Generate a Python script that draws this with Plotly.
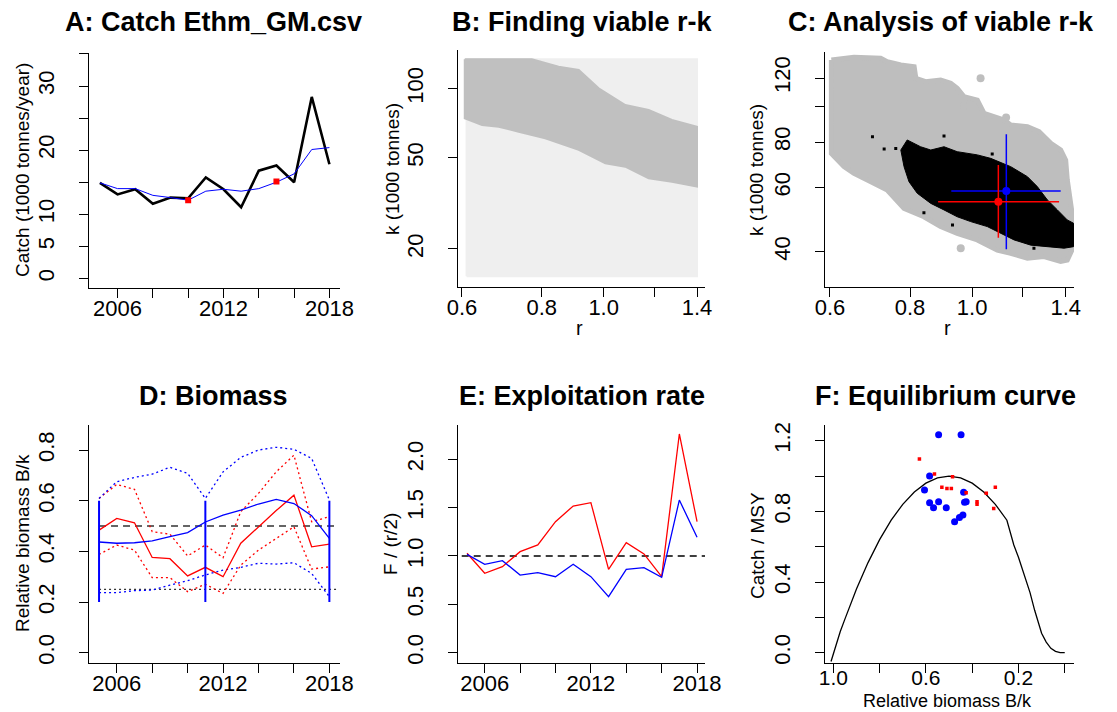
import plotly.graph_objects as go

W, H = 1117, 712
FONT = "Liberation Sans, Arial, sans-serif"

# ---------------- data ----------------
years = list(range(2005, 2019))

# A: catch
catch = [14.9, 13.1, 13.9, 11.65, 12.6, 12.5, 15.75, 13.9, 11.1, 16.8, 17.6, 15.0, 28.3, 17.8]
catch_smooth = [14.9, 14.0, 14.0, 12.95, 12.6, 12.2, 13.6, 13.9, 13.6, 14.0, 15.0, 16.3, 20.1, 20.4]
catch_mark_years = [2010, 2015]
catch_mark_vals = [12.2, 15.1]

# B: r-k space (outlines of the explored and viable r-k clouds)
b_all_r = [0.61, 1.40, 1.40, 0.61]
b_all_k = [15.2, 15.2, 134.4, 134.4]
b_viable_r = [0.606, 0.772, 0.850, 0.914, 0.982, 1.081, 1.176, 1.279, 1.40, 1.40,
              1.279, 1.176, 1.081, 1.006, 0.914, 0.810, 0.736, 0.685, 0.645, 0.606]
b_viable_k = [134.4, 134.4, 124.7, 120.6, 100.4, 84.9, 80.7, 73.0, 68.3, 37.4,
              39.3, 40.7, 45.7, 47.3, 54.1, 60.8, 64.9, 68.3, 69.5, 74.3]

# C: viable r-k (grey) and BSM r-k (black) clouds
c_grey_r = [0.603, 0.654, 0.720, 0.737, 0.774, 0.812, 0.817, 0.846, 0.893, 0.926,
            0.948, 0.971, 1.019, 1.044, 1.122, 1.149, 1.220, 1.272, 1.327, 1.375,
            1.400, 1.408, 1.440, 1.440, 1.408, 1.375, 1.295, 1.220, 1.149, 1.095,
            1.019, 0.948, 0.893, 0.841, 0.783, 0.737, 0.695, 0.654, 0.631, 0.603]
c_grey_k = [134.5, 136.8, 135.9, 133.1, 130.3, 128.9, 119.8, 117.3, 118.5, 116.1,
            112.4, 106.7, 104.4, 96.0, 92.0, 89.2, 88.2, 85.5, 79.4, 76.1,
            71.4, 63.0, 47.9, 41.3, 37.95, 37.6, 38.8, 38.4, 39.6, 40.4,
            43.1, 44.9, 46.9, 49.9, 52.6, 59.1, 62.3, 65.7, 68.5, 74.5]
c_grey_pts_r = [1.031, 0.960, 0.971, 1.130]
c_grey_pts_k = [119.8, 40.9, 100.6, 93.5]
c_black_r = [0.774, 0.792, 0.831, 0.862, 0.904, 0.948, 1.019, 1.069, 1.149, 1.220,
             1.264, 1.311, 1.359, 1.408, 1.440, 1.440, 1.392, 1.295, 1.235, 1.163,
             1.108, 1.056, 0.995, 0.948, 0.904, 0.862, 0.821, 0.797, 0.783]
c_black_k = [76.1, 81.1, 77.7, 76.1, 77.7, 75.3, 73.8, 72.2, 68.5, 64.3,
             60.4, 55.5, 52.1, 48.9, 47.9, 41.3, 40.9, 41.3, 41.7, 43.1,
             44.9, 46.9, 48.4, 49.9, 52.1, 54.3, 57.9, 62.3, 68.5]
c_black_pts_r = [0.699, 0.729, 0.760, 0.841, 0.932, 1.075, 0.904, 1.249]
c_black_pts_k = [82.8, 76.6, 76.9, 51.2, 47.4, 74.2, 83.2, 40.9]
bsm_r, bsm_r_lo, bsm_r_hi = 1.131, 0.928, 1.375
bsm_k, bsm_k_lo, bsm_k_hi = 58.7, 40.6, 84.1
cmsy_r, cmsy_r_lo, cmsy_r_hi = 1.099, 0.885, 1.367
cmsy_k, cmsy_k_lo, cmsy_k_hi = 54.9, 43.7, 69.2

# D: biomass
bk_cmsy = [0.484, 0.530, 0.513, 0.376, 0.371, 0.303, 0.337, 0.300, 0.432, 0.497, 0.561, 0.622, 0.418, 0.429]
bk_cmsy_hi = [0.609, 0.664, 0.645, 0.478, 0.468, 0.382, 0.425, 0.375, 0.557, 0.629, 0.714, 0.780, 0.517, 0.537]
bk_cmsy_lo = [0.388, 0.425, 0.405, 0.296, 0.296, 0.241, 0.270, 0.234, 0.346, 0.405, 0.451, 0.497, 0.330, 0.339]
bk_bsm = [0.437, 0.432, 0.434, 0.441, 0.458, 0.474, 0.516, 0.543, 0.563, 0.587, 0.605, 0.589, 0.541, 0.451]
bk_bsm_hi = [0.609, 0.675, 0.692, 0.705, 0.732, 0.708, 0.609, 0.714, 0.771, 0.800, 0.811, 0.803, 0.767, 0.603]
bk_bsm_lo = [0.237, 0.237, 0.245, 0.247, 0.267, 0.284, 0.307, 0.326, 0.337, 0.353, 0.350, 0.355, 0.313, 0.221]
prior_years = [2005, 2011, 2018]
prior_lo = [0.2, 0.2, 0.2]
prior_hi = [0.6, 0.6, 0.6]

# E: exploitation
f_cmsy = [1.028, 0.821, 0.890, 1.045, 1.114, 1.355, 1.517, 1.552, 0.862, 1.138, 1.021, 0.786, 2.262, 1.355]
f_bsm = [1.017, 0.914, 0.952, 0.803, 0.828, 0.786, 0.914, 0.786, 0.579, 0.862, 0.879, 0.779, 1.579, 1.193]

# F: equilibrium curve
eq_bk = [1.01, 0.97, 0.95, 0.9, 0.85, 0.8, 0.75, 0.7, 0.65, 0.6, 0.55, 0.5, 0.45, 0.4,
         0.35, 0.3, 0.25, 0.22, 0.2, 0.17, 0.15, 0.13, 0.1, 0.08, 0.06, 0.04, 0.02, 0.0]
eq_cmsy = [-0.05, 0.12, 0.19, 0.36, 0.51, 0.64, 0.75, 0.84, 0.91, 0.96, 0.99, 1.0, 0.99, 0.96,
           0.91, 0.84, 0.75, 0.61, 0.54, 0.42, 0.34, 0.24, 0.11, 0.06, 0.025, 0.008, 0.0, 0.0]
f_bsm_bk = [0.545, 0.448, 0.584, 0.606, 0.437, 0.584, 0.545, 0.567, 0.512, 0.433, 0.426, 0.440, 0.455, 0.476]
f_bsm_c = [1.234, 1.234, 1.0, 0.921, 0.908, 0.849, 0.855, 0.821, 0.821, 0.851, 0.855, 0.779, 0.766, 0.741]
f_cmsy_bk = [0.628, 0.563, 0.485, 0.531, 0.509, 0.490, 0.426, 0.339, 0.300, 0.379, 0.379, 0.307]
f_cmsy_c = [1.096, 1.011, 0.996, 0.936, 0.930, 0.930, 0.906, 0.902, 0.936, 0.855, 0.841, 0.817]

# ---------------- figure ----------------
fig = go.Figure()

def line(x, y, xa, ya, color, width, dash="solid"):
    fig.add_trace(go.Scatter(x=x, y=y, xaxis=xa, yaxis=ya, mode="lines",
                             line=dict(color=color, width=width, dash=dash),
                             hoverinfo="skip", showlegend=False))

def pts(x, y, xa, ya, color, size, symbol="circle"):
    fig.add_trace(go.Scatter(x=x, y=y, xaxis=xa, yaxis=ya, mode="markers",
                             marker=dict(color=color, size=size, symbol=symbol, line=dict(width=0)),
                             hoverinfo="skip", showlegend=False))

def poly(x, y, xa, ya, color, lw=2):
    fig.add_trace(go.Scatter(x=x + x[:1], y=y + y[:1], xaxis=xa, yaxis=ya, mode="lines",
                             fill="toself", fillcolor=color, line=dict(color=color, width=lw),
                             hoverinfo="skip", showlegend=False))

# A
line(years, catch, "x", "y", "black", 2.6)
line(years, catch_smooth, "x", "y", "blue", 1)
pts(catch_mark_years, catch_mark_vals, "x", "y", "red", 6, "square")

# B
poly(b_all_r, b_all_k, "x2", "y2", "#EFEFEF")
poly(b_viable_r, b_viable_k, "x2", "y2", "#C0C0C0")

# C
poly(c_grey_r, c_grey_k, "x3", "y3", "#BEBEBE", 5)
pts(c_grey_pts_r, c_grey_pts_k, "x3", "y3", "#BEBEBE", 8)
poly(c_black_r, c_black_k, "x3", "y3", "black", 1)
pts(c_black_pts_r, c_black_pts_k, "x3", "y3", "black", 3, "square")
line([bsm_r_lo, bsm_r_hi], [bsm_k, bsm_k], "x3", "y3", "blue", 1.5)
line([bsm_r, bsm_r], [bsm_k_lo, bsm_k_hi], "x3", "y3", "blue", 1.5)
pts([bsm_r], [bsm_k], "x3", "y3", "blue", 8)
line([cmsy_r_lo, cmsy_r_hi], [cmsy_k, cmsy_k], "x3", "y3", "red", 1.5)
line([cmsy_r, cmsy_r], [cmsy_k_lo, cmsy_k_hi], "x3", "y3", "red", 1.5)
pts([cmsy_r], [cmsy_k], "x3", "y3", "red", 8)

# D
line([2005, 2018.5], [0.5, 0.5], "x4", "y4", "#333333", 1.4, "7px,5px")
line([2005, 2018.5], [0.25, 0.25], "x4", "y4", "#333333", 1.4, "2px,3px")
line(years, bk_cmsy_hi, "x4", "y4", "red", 1.3, "2px,3px")
line(years, bk_cmsy_lo, "x4", "y4", "red", 1.3, "2px,3px")
line(years, bk_bsm_hi, "x4", "y4", "blue", 1.3, "2px,3px")
line(years, bk_bsm_lo, "x4", "y4", "blue", 1.3, "2px,3px")
line(years, bk_cmsy, "x4", "y4", "red", 1.3)
line(years, bk_bsm, "x4", "y4", "blue", 1.3)
for yr, lo, hi in zip(prior_years, prior_lo, prior_hi):
    line([yr, yr], [lo, hi], "x4", "y4", "blue", 2)

# E
line([2004.7, 2018.5], [1.0, 1.0], "x5", "y5", "black", 1.4, "7px,5px")
line(years, f_cmsy, "x5", "y5", "red", 1.3)
line(years, f_bsm, "x5", "y5", "blue", 1.3)

# F
line(eq_bk, eq_cmsy, "x6", "y6", "black", 1.3)
pts(f_bsm_bk, f_bsm_c, "x6", "y6", "blue", 7)
pts(f_cmsy_bk, f_cmsy_c, "x6", "y6", "red", 3.5, "square")

# ---------------- axes ----------------
def xd(l, r):
    return [l / W, r / W]

def yd(t, b):
    return [1 - b / H, 1 - t / H]

def axis(domain, rng, anchor, tickvals, ticktext, is_y, typ="linear", standoff=None, fsize=22):
    d = dict(domain=domain, range=rng, anchor=anchor, type=typ,
             showline=True, linecolor="black", linewidth=1.3,
             ticks="outside", ticklen=9, tickwidth=1.3, tickcolor="black",
             showgrid=False, zeroline=False, mirror=False, fixedrange=True,
             automargin=False,
             tickmode="array", tickvals=tickvals, ticktext=ticktext,
             tickfont=dict(family=FONT, size=fsize, color="black"))
    if is_y:
        d["tickangle"] = -90
        d["ticklabelstandoff"] = 16 if standoff is None else standoff
    else:
        d["ticklabelstandoff"] = -9 if standoff is None else standoff
    return d

yr_ticks = [2006, 2008, 2010, 2012, 2014, 2016, 2018]
yr_text = ["2006", "", "", "2012", "", "", "2018"]
r_ticks = [0.6, 0.8, 1.0, 1.2, 1.4]
r_text = ["0.6", "0.8", "1.0", "", "1.4"]

layout_axes = dict(
    xaxis=axis(xd(89.3, 340), [2004.4, 2018.6], "y", yr_ticks, yr_text, False),
    yaxis=axis(yd(53, 288), [-1.5, 35.15], "x", [0, 5, 10, 15, 20, 25, 30, 35],
               ["0", "5", "10", "", "20", "", "30", ""], True),
    xaxis2=axis(xd(458, 705.3), [-0.2281, 0.1591], "y2", r_ticks, r_text, False, "log"),
    yaxis2=axis(yd(50, 287), [1.1353, 2.1687], "x2", [20, 50, 100], ["20", "50", "100"], True, "log"),
    xaxis3=axis(xd(824.7, 1074), [-0.2301, 0.1591], "y3", r_ticks, r_text, False, "log"),
    yaxis3=axis(yd(51.7, 287.3), [1.5043, 2.1515], "x3", [40, 60, 80, 100, 120],
                ["40", "60", "80", "", "120"], True, "log"),
    xaxis4=axis(xd(89.3, 340), [2004.45, 2018.6], "y4", yr_ticks, yr_text, False),
    yaxis4=axis(yd(425, 663.3), [-0.042, 0.899], "x4", [0, 0.2, 0.4, 0.6, 0.8],
                ["0.0", "0.2", "0.4", "0.6", "0.8"], True),
    xaxis5=axis(xd(458, 705), [2004.49, 2018.45], "y5", yr_ticks, yr_text, False),
    yaxis5=axis(yd(425, 663.3), [-0.11, 2.355], "x5", [0, 0.5, 1.0, 1.5, 2.0],
                ["0.0", "0.5", "1.0", "1.5", "2.0"], True),
    xaxis6=axis(xd(825, 1074), [1.036, -0.04], "y6", [1.0, 0.8, 0.6, 0.4, 0.2, 0.0],
                ["1.0", "", "0.6", "", "0.2", ""], False, standoff=-14, fsize=21),
    yaxis6=axis(yd(425, 663.3), [-0.06, 1.289], "x6", [0, 0.2, 0.4, 0.6, 0.8, 1.0, 1.2],
                ["0.0", "", "0.4", "", "0.8", "", "1.2"], True),
)

# ---------------- titles and axis labels ----------------
annotations = []

def ann(text, x, y, size, angle=0, bold=False):
    annotations.append(dict(text=("<b>%s</b>" % text) if bold else text,
                            x=x / W, y=1 - y / H, xref="paper", yref="paper",
                            xanchor="center", yanchor="middle", showarrow=False,
                            textangle=angle,
                            font=dict(family=FONT, size=size, color="black")))

ann("A: Catch Ethm_GM.csv", 213, 22, 27, bold=True)
ann("B: Finding viable r-k", 582, 22, 27, bold=True)
ann("C: Analysis of viable r-k", 941, 22, 27, bold=True)
ann("D: Biomass", 213, 396, 27, bold=True)
ann("E: Exploitation rate", 582, 396, 27, bold=True)
ann("F: Equilibrium curve", 946, 396, 27, bold=True)

ann("Catch (1000 tonnes/year)", 23, 170, 19, -90)
ann("k (1000 tonnes)", 392, 169, 19, -90)
ann("r", 579, 328, 20)
ann("k (1000 tonnes)", 757, 170, 19, -90)
ann("r", 947, 328, 20)
ann("Relative biomass B/k", 22, 543, 19, -90)
ann("F / (r/2)", 390, 544, 19, -90)
ann("Catch / MSY", 757, 546, 19, -90)
ann("Relative biomass B/k", 947, 701, 18)

fig.update_layout(width=W, height=H,
                  margin=dict(l=0, r=0, t=0, b=0, pad=0, autoexpand=False),
                  paper_bgcolor="white", plot_bgcolor="white",
                  showlegend=False, annotations=annotations, **layout_axes)

fig.write_html("out.html", config={"displayModeBar": False, "responsive": False},
               post_script="document.body.style.margin='0';document.body.style.overflow='hidden';")
